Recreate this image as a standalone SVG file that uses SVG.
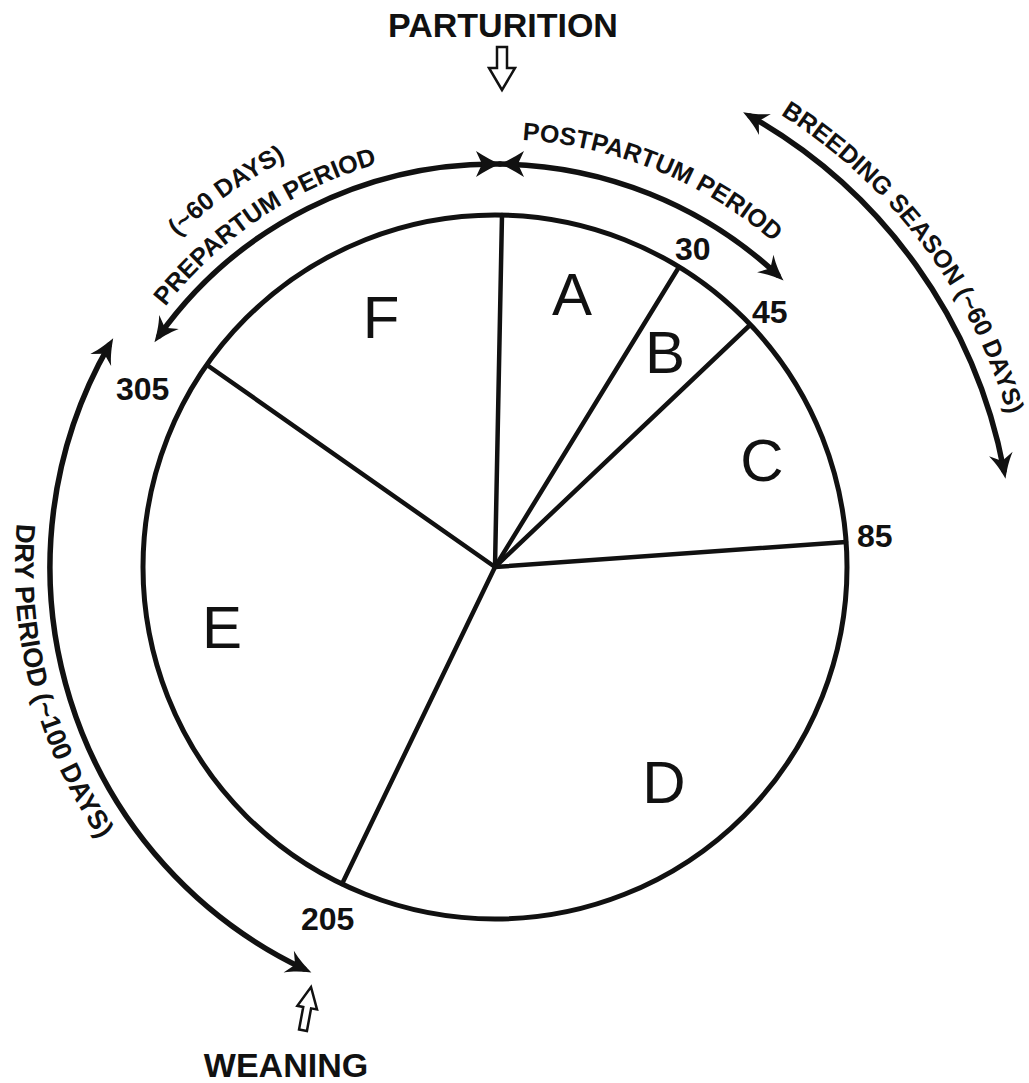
<svg xmlns="http://www.w3.org/2000/svg" width="1029" height="1083" viewBox="0 0 1029 1083">
  <defs>
    <style>
      .ln { fill: none; stroke: #111; stroke-linecap: round; }
      .circ { stroke-width: 5; }
      .spoke { stroke-width: 4.5; }
      .arc { stroke-width: 5.5; }
      .title { font-family: "Liberation Sans", Arial, sans-serif; font-weight: bold; font-size: 34px; fill: #111; text-anchor: middle; }
      .num { font-family: "Liberation Sans", Arial, sans-serif; font-weight: bold; font-size: 32px; fill: #111; }
      .sec { font-family: "Liberation Sans", Arial, sans-serif; font-size: 60px; fill: #111; text-anchor: middle; }
      .curv { font-family: "Liberation Sans", Arial, sans-serif; font-weight: bold; font-size: 25px; fill: #111; }
      .curv-dry { font-family: "Liberation Sans", Arial, sans-serif; font-weight: bold; font-size: 27px; fill: #111; }
      .hollow { fill: #fff; stroke: #111; stroke-width: 2.5; stroke-linejoin: miter; }
    </style>
    <marker id="ah" markerUnits="userSpaceOnUse" viewBox="-20 -14 30 28" refX="0" refY="0" markerWidth="30" markerHeight="28" orient="auto-start-reverse" overflow="visible">
      <path d="M 8,0 C 0,-3 -8,-6 -17,-12 L -10,0 L -17,12 C -8,6 0,3 8,0 Z" fill="#111"/>
    </marker>
    <path id="p-prepartum" d="M 91.3 451.2 A 420 420 0 0 1 538.9 149.3"/>
    <path id="p-60days" d="M 51.6 452.3 A 458 458 0 0 1 530.9 110.4"/>
    <path id="p-postpartum" d="M 363.8 159.6 A 428 428 0 0 1 873.4 367.0"/>
    <path id="p-breeding" d="M 614.0 45.4 A 535 535 0 0 1 1029.3 593.6"/>
    <path id="p-dry" d="M 61.0 361.8 A 480 480 0 0 0 217.6 958.7"/>
  </defs>

  <rect width="1029" height="1083" fill="#fff"/>

  <g id="cycle-circle">
    <circle class="ln circ" cx="495" cy="567" r="352"/>
  </g>

  <g id="spokes">
    <line class="ln spoke" x1="495" y1="567" x2="502" y2="215"/>
    <line class="ln spoke" x1="495" y1="567" x2="679" y2="267"/>
    <line class="ln spoke" x1="495" y1="567" x2="750" y2="325"/>
    <line class="ln spoke" x1="495" y1="567" x2="846" y2="542"/>
    <line class="ln spoke" x1="495" y1="567" x2="342" y2="884"/>
    <line class="ln spoke" x1="495" y1="567" x2="207" y2="365"/>
  </g>

  <g id="sector-A"><text class="sec" x="572" y="315">A</text></g>
  <g id="sector-B"><text class="sec" x="665" y="373">B</text></g>
  <g id="sector-C"><text class="sec" x="762" y="481">C</text></g>
  <g id="sector-D"><text class="sec" x="664" y="803">D</text></g>
  <g id="sector-E"><text class="sec" x="222" y="648">E</text></g>
  <g id="sector-F"><text class="sec" x="381" y="338">F</text></g>

  <g id="day-labels">
    <text class="num" x="675" y="260">30</text>
    <text class="num" x="752" y="323">45</text>
    <text class="num" x="857" y="547">85</text>
    <text class="num" x="301" y="930">205</text>
    <text class="num" x="116" y="400">305</text>
  </g>

  <g id="parturition">
    <text class="title" x="503" y="37">PARTURITION</text>
    <polygon class="hollow" transform="translate(502,90)" points="0,0 -13,-22 -5,-22 -5,-43 5,-43 5,-22 13,-22"/>
  </g>

  <g id="weaning">
    <text class="title" x="286" y="1077">WEANING</text>
    <polygon class="hollow" transform="translate(311,987) rotate(10.5)" points="0,0 10,21 4,21 4,44 -4,44 -4,21 -10,21"/>
  </g>

  <g id="connectors">
    <path class="ln arc" d="M 500 164 A 410 403 0 0 0 159.1 335.8" marker-end="url(#ah)"/>
    <path class="ln arc" d="M 500 164 A 410 403 0 0 1 777.7 275.1" marker-end="url(#ah)"/>
    <path d="M 476 151 Q 490 160 500 164 Q 510 160 524 151 L 518 164 L 524 177 Q 510 168 500 164 Q 490 168 476 177 L 482 164 Z" fill="#111"/>
    <path class="ln arc" d="M 750.1 116.1 A 518 518 0 0 1 1004.0 470.8" marker-start="url(#ah)" marker-end="url(#ah)"/>
    <path class="ln arc" d="M 304.1 969.0 A 445 445 0 0 1 109.2 345.2" marker-start="url(#ah)" marker-end="url(#ah)"/>
  </g>

  <g id="period-labels">
    <text class="curv"><textPath href="#p-prepartum" startOffset="50%" text-anchor="middle">PREPARTUM PERIOD</textPath></text>
    <text class="curv"><textPath href="#p-60days" startOffset="50%" text-anchor="middle">(~60 DAYS)</textPath></text>
    <text class="curv"><textPath href="#p-postpartum" startOffset="50%" text-anchor="middle">POSTPARTUM PERIOD</textPath></text>
    <text class="curv"><textPath href="#p-breeding" startOffset="50%" text-anchor="middle">BREEDING SEASON (~60 DAYS)</textPath></text>
    <text class="curv-dry"><textPath href="#p-dry" startOffset="50%" text-anchor="middle">DRY PERIOD (~100 DAYS)</textPath></text>
  </g>
</svg>
